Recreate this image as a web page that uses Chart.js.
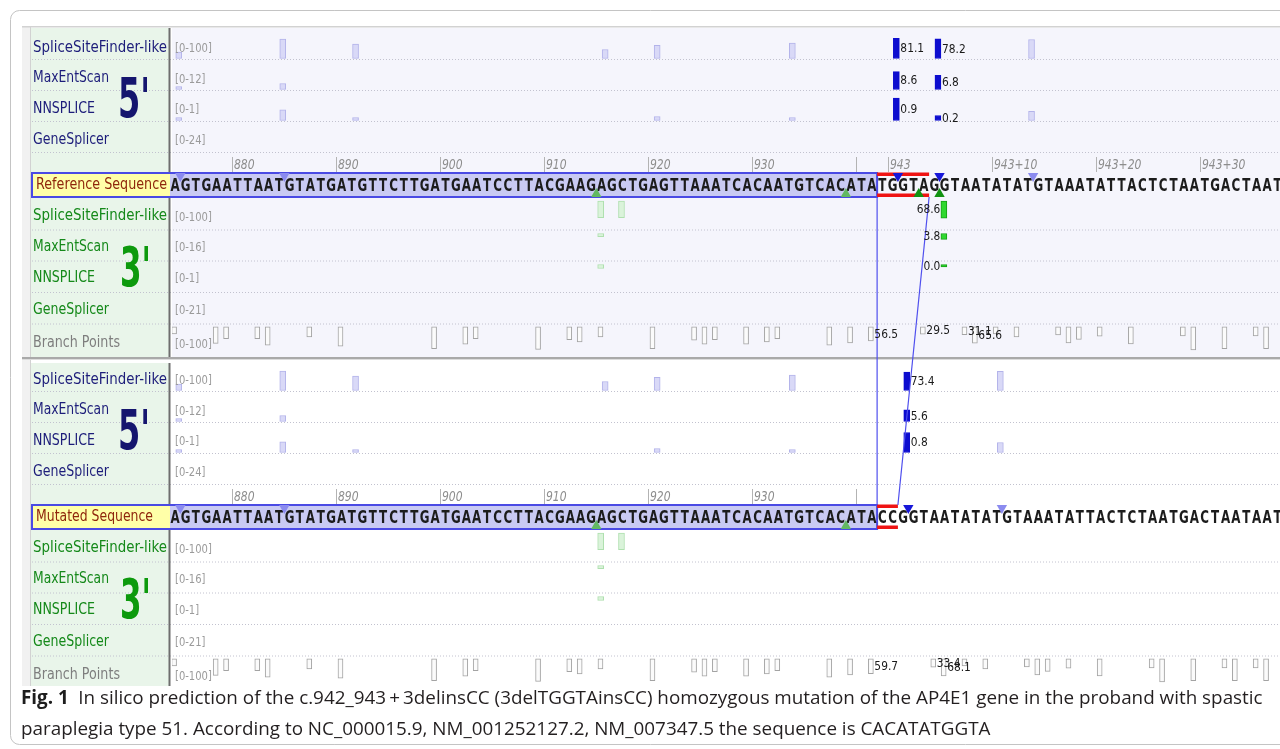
<!DOCTYPE html>
<html>
<head>
<meta charset="utf-8">
<script src="https://cdn.jsdelivr.net/npm/chart.js@4.4.0/dist/chart.umd.min.js"></script>
<style>
  html, body { margin: 0; padding: 0; background: #fff; width: 1280px; height: 749px; overflow: hidden; }
  #grafico { position: absolute; left: 0; top: 0; }
  #leyenda {
    position: absolute; left: 21px; top: 682px; white-space: nowrap;
    font-family: 'Open Sans', 'Noto Sans', sans-serif; font-size: 18.85px; line-height: 31px; color: #231f20;
  }
  #leyenda b { color: #1d1d1d; }
</style>
</head>
<body>
<canvas id="grafico" width="1280" height="749"></canvas>
<div id="leyenda"><b>Fig. 1</b>&ensp;In silico prediction of the c.942_943&thinsp;+&thinsp;3delinsCC (3delTGGTAinsCC) homozygous mutation of the AP4E1 gene in the proband with spastic<br>paraplegia type 51. According to NC_000015.9, NM_001252127.2, NM_007347.5 the sequence is CACATATGGTA</div>
<script>
// secuencias mostradas (primera base = c.874)
const primeraPos = 874;
const secRef = 'AGTGAATTAATGTATGATGTTCTTGATGAATCCTTACGAAGAGCTGAGTTAAATCACAATGTCACATATGGTAGGTAATATATGTAAATATTACTCTAATGACTAAT';
const secMut = 'AGTGAATTAATGTATGATGTTCTTGATGAATCCTTACGAAGAGCTGAGTTAAATCACAATGTCACATACCGGTAATATATGTAAATATTACTCTAATGACTAATAAT';
const finExon = 942;
const cambioRef = [942, 947];   // TGGTA
const cambioMut = [942, 944];   // CC

// regla
const marcasRef = [880, 890, 900, 910, 920, 930, 940, 943, 953, 963, 973];
const etiquetasRef = ['880', '890', '900', '910', '920', '930', '', '943', '943+10', '943+20', '943+30'];
const marcasMut = [880, 890, 900, 910, 920, 930, 940];
const etiquetasMut = ['880', '890', '900', '910', '920', '930', ''];

// pistas
const pistas5 = ['SpliceSiteFinder-like', 'MaxEntScan', 'NNSPLICE', 'GeneSplicer'];
const rangos5 = [100, 12, 1, 24];
const pistas3 = ['SpliceSiteFinder-like', 'MaxEntScan', 'NNSPLICE', 'GeneSplicer', 'Branch Points'];
const rangos3 = [100, 16, 1, 21, 100];

// sitios donadores (5'), referencia
const donRefPos = [875, 885, 892, 916, 921, 934, 944, 948, 957];
const donRefSSF = [26, 78, 58, 36, 53, 62, 81.1, 78.2, 76];
const donRefMES = [1.4, 2.9, null, null, null, null, 8.6, 6.8, null];
const donRefNNS = [0.1, 0.43, 0.1, null, 0.16, 0.12, 0.9, 0.2, 0.37];
const donRefFuertes = [944, 948];
// sitios donadores (5'), mutada
const donMutPos = [875, 885, 892, 916, 921, 934, 945, 954];
const donMutSSF = [26, 78, 58, 36, 53, 62, 73.4, 77];
const donMutMES = [1.4, 2.9, null, null, null, null, 5.6, null];
const donMutNNS = [0.1, 0.43, 0.1, null, 0.16, 0.12, 0.8, 0.4];
const donMutFuertes = [945];

// sitios aceptores (3')
const accRefPos = [915, 917, 948];
const accRefSSF = [67, 67, 68.6];
const accRefMES = [2.1, null, 3.8];
const accRefNNS = [0.16, null, 0.0];
const accRefFuertes = [948];
const accMutPos = [915, 917];
const accMutSSF = [67, 67];
const accMutMES = [2.1, null];
const accMutNNS = [0.16, null];
const accMutFuertes = [];

// triángulos sobre la secuencia
const triDonRef = [875, 885, 944, 948, 957];
const triAccRef = [915, 939, 946, 948];
const triAccRefFuertes = [946, 948];
const triDonMut = [875, 885, 945, 954];
const triAccMut = [915, 939];
const triAccMutFuertes = [];

// puntos de ramificación
const bpRefPos = [874, 878, 879, 882, 883, 887, 890, 899, 902, 903, 909, 912, 913, 915, 920, 924, 925, 926, 929, 931, 932, 937, 939, 941, 946, 950, 951, 953, 955, 959, 960, 961, 963, 966, 971, 972, 975, 978, 979];
const bpRefVal = [28, 66, 47, 47, 73, 40, 77, 87, 69, 47, 90, 51, 60, 40, 87, 53, 69, 51, 69, 60, 47, 73, 64, 56.5, 29.5, 31.1, 65.6, 28, 40, 32, 64, 50, 37, 68, 36, 92, 87, 36, 87];
const bpRefConEtiqueta = [941, 946, 950, 951];
const bpMutPos = [874, 878, 879, 882, 883, 887, 890, 899, 902, 903, 909, 912, 913, 915, 920, 924, 925, 926, 929, 931, 932, 937, 939, 941, 947, 948, 950, 952, 956, 957, 958, 960, 963, 968, 969, 972, 975, 976, 978, 979];
const bpMutVal = [28, 66, 47, 47, 73, 40, 77, 87, 69, 47, 90, 51, 60, 40, 87, 53, 69, 51, 69, 60, 47, 73, 64, 59.7, 33.4, 68.1, 28, 40, 32, 64, 50, 37, 68, 36, 92, 87, 36, 87, 36, 87];
const bpMutConEtiqueta = [941, 947, 948];

// ---- diseño ----
const ALTO_MAX = 25;                 // px de una barra en el tope de su rango
const DESPL_DON = -0.15, DESPL_ACC = 0.42, DESPL_BP = 0.4;
const FILA = {
  top: 28, bottom: 357,
  base5: [59, 90, 121, 152], texto5: [48, 78.5, 109, 140],
  regTop: 157, regBottom: 172, regTexto: 165,
  cajaTop: 173, cajaBottom: 197,
  top3: [197, 229.5, 260.5, 292, 323.5], texto3: [216.5, 247, 278, 310, 343.5]
};
const FUENTE = "'DejaVu Sans', Verdana, sans-serif";

const secciones = [
  { dy: 0, nombre: 'Reference Sequence', anchoNombre: 131, fondo: '#f5f5fc', sec: secRef, cambio: cambioRef,
    marcas: marcasRef, etiquetas: etiquetasRef,
    don: { pos: donRefPos, vals: [donRefSSF, donRefMES, donRefNNS], fuertes: donRefFuertes },
    acc: { pos: accRefPos, vals: [accRefSSF, accRefMES, accRefNNS], fuertes: accRefFuertes },
    triDon: triDonRef, triAcc: triAccRef, triAccFuertes: triAccRefFuertes,
    bp: { pos: bpRefPos, vals: bpRefVal, etiq: bpRefConEtiqueta } },
  { dy: 332, nombre: 'Mutated Sequence', anchoNombre: 117, fondo: '#ffffff', sec: secMut, cambio: cambioMut,
    marcas: marcasMut, etiquetas: etiquetasMut,
    don: { pos: donMutPos, vals: [donMutSSF, donMutMES, donMutNNS], fuertes: donMutFuertes },
    acc: { pos: accMutPos, vals: [accMutSSF, accMutMES, accMutNNS], fuertes: accMutFuertes },
    triDon: triDonMut, triAcc: triAccMut, triAccFuertes: triAccMutFuertes,
    bp: { pos: bpMutPos, vals: bpMutVal, etiq: bpMutConEtiqueta } }
];

// ---- conjuntos de datos ----
const conjuntos = [];
const textosValor = [];   // etiquetas numéricas junto a barras

secciones.forEach(s => {
  const r = 6;
  const colDon = s.triDon.map(p => s.don.fuertes.includes(p) ? '#1717d9' : '#8b8bef');
  conjuntos.push({
    type: 'scatter', order: 0,
    data: s.triDon.map(p => ({ x: p, y: FILA.cajaTop + s.dy + r / 2 })),
    pointStyle: 'triangle', pointRotation: 180, pointRadius: r,
    pointBackgroundColor: colDon, pointBorderColor: colDon, pointBorderWidth: 0
  });
  const colAcc = s.triAcc.map(p => s.triAccFuertes.includes(p) ? '#129312' : '#62b862');
  conjuntos.push({
    type: 'scatter', order: 0,
    data: s.triAcc.map(p => ({ x: p, y: FILA.cajaBottom + s.dy - r / 2 })),
    pointStyle: 'triangle', pointRotation: 0, pointRadius: r,
    pointBackgroundColor: colAcc, pointBorderColor: colAcc, pointBorderWidth: 0
  });

  // barras 5'
  s.don.vals.forEach((vals, k) => {
    const base = FILA.base5[k] + s.dy - 0.5;
    const datos = [], fondo = [], borde = [];
    s.don.pos.forEach((p, i) => {
      const v = vals[i];
      if (v === null || v === undefined) return;
      const h = Math.max(v / rangos5[k] * ALTO_MAX, 3);
      datos.push({ x: p + DESPL_DON, y: [base, base - h] });
      const f = s.don.fuertes.includes(p);
      fondo.push(f ? '#0d0dcf' : '#d9d9f7');
      borde.push(f ? '#0d0dcf' : '#b3b3ea');
      if (f) textosValor.push({ v: v.toFixed(1), x: p + DESPL_DON, y: base - h / 2, lado: 'der' });
    });
    conjuntos.push({ type: 'bar', order: 2, data: datos, backgroundColor: fondo, borderColor: borde,
      borderWidth: 1, borderSkipped: false, barThickness: 6, stack: 'pistas' });
  });

  // barras 3'
  s.acc.vals.forEach((vals, k) => {
    const tope = FILA.top3[k] + s.dy + 4;
    const datos = [], fondo = [], borde = [];
    s.acc.pos.forEach((p, i) => {
      const v = vals[i];
      if (v === null || v === undefined) return;
      const h = Math.max(v / rangos3[k] * ALTO_MAX, 2.5);
      datos.push({ x: p + DESPL_ACC, y: [tope, tope + h] });
      const f = s.acc.fuertes.includes(p);
      fondo.push(f ? '#2fd82f' : '#daf3da');
      borde.push(f ? '#15a015' : '#afe0af');
      if (f) textosValor.push({ v: v.toFixed(1), x: p + DESPL_ACC, y: tope + h / 2, lado: 'izq' });
    });
    conjuntos.push({ type: 'bar', order: 2, data: datos, backgroundColor: fondo, borderColor: borde,
      borderWidth: 1, borderSkipped: false, barThickness: 6, stack: 'pistas' });
  });

  // puntos de ramificación
  const topeBp = FILA.top3[4] + s.dy + 3.3;
  conjuntos.push({
    type: 'bar', order: 2,
    data: s.bp.pos.map((p, i) => ({ x: p + DESPL_BP, y: [topeBp, topeBp + s.bp.vals[i] / rangos3[4] * ALTO_MAX] })),
    backgroundColor: '#fbfbfb', borderColor: '#a3a3a3', borderWidth: 1, borderSkipped: false,
    barThickness: 5, stack: 'pistas'
  });
  s.bp.pos.forEach((p, i) => {
    if (s.bp.etiq.includes(p)) {
      const h = s.bp.vals[i] / rangos3[4] * ALTO_MAX;
      textosValor.push({ v: s.bp.vals[i].toFixed(1), x: p + DESPL_BP, y: topeBp + h / 2, lado: 'bp' });
    }
  });
});

// líneas que unen la deleción con la inserción
const yCajaRef = FILA.cajaBottom, yCajaMut = FILA.cajaTop + secciones[1].dy;
conjuntos.push({ type: 'line', order: 1, data: [{ x: cambioRef[0], y: yCajaRef }, { x: cambioMut[0], y: yCajaMut }],
  borderColor: '#4f4fee', borderWidth: 1.2, pointRadius: 0, fill: false });
conjuntos.push({ type: 'line', order: 1, data: [{ x: cambioRef[1], y: yCajaRef }, { x: cambioMut[1], y: yCajaMut }],
  borderColor: '#4f4fee', borderWidth: 1.2, pointRadius: 0, fill: false });

// ---- utilidades de texto ----
function texto(ctx, s, x, y, fuente, color, alinear, sx, base) {
  ctx.save();
  ctx.font = fuente; ctx.fillStyle = color; ctx.textAlign = alinear || 'left';
  ctx.textBaseline = base || 'middle';
  ctx.translate(x, y); ctx.scale(sx || 1, 1);
  ctx.fillText(s, 0, 0);
  ctx.restore();
}
function ajustado(ctx, s, x, y, ancho, fuente, color, base) {
  ctx.save();
  ctx.font = fuente;
  const m = ctx.measureText(s).width;
  ctx.restore();
  texto(ctx, s, x, y, fuente, color, 'left', ancho / m, base);
}

const fondoPlugin = {
  id: 'fondo',
  beforeDraw(chart) {
    const ctx = chart.ctx;
    const { left, right, bottom } = chart.chartArea;
    const X = v => chart.scales.x.getPixelForValue(v);
    ctx.save();
    ctx.fillStyle = '#fff'; ctx.fillRect(0, 0, 1280, 749);
    // marco exterior
    ctx.strokeStyle = '#c4c4c4'; ctx.lineWidth = 1;
    ctx.beginPath(); ctx.roundRect(10.5, 10.5, 1300, 734, 9); ctx.stroke();
    // borde de la captura
    ctx.fillStyle = '#f1f1f1'; ctx.fillRect(22, 26, 9, bottom - 26);
    ctx.fillStyle = '#d2d2d2'; ctx.fillRect(22, 26, right - 22, 1.5);
    ctx.fillRect(30, 26, 1, bottom - 26);

    secciones.forEach((s, n) => {
      const t = FILA.top + s.dy + (n ? 3 : 0);
      const b = Math.min(FILA.bottom + s.dy, bottom);
      ctx.fillStyle = s.fondo; ctx.fillRect(left, t, right - left, b - t);
      ctx.fillStyle = '#e9f5ea'; ctx.fillRect(31, t, 138, b - t);

      // líneas punteadas
      ctx.strokeStyle = '#c2c2cf'; ctx.lineWidth = 1; ctx.setLineDash([1, 2]);
      FILA.base5.concat(FILA.top3.slice(1)).forEach(y => {
        ctx.beginPath(); ctx.moveTo(32, y + s.dy + 0.5); ctx.lineTo(right, y + s.dy + 0.5); ctx.stroke();
      });
      ctx.setLineDash([]);

      // divisor vertical
      ctx.fillStyle = '#6e6e6e'; ctx.fillRect(168.5, t, 2, b - t);

      // caja de secuencia
      const ct = FILA.cajaTop + s.dy, cb = FILA.cajaBottom + s.dy;
      ctx.fillStyle = '#ffffa8'; ctx.fillRect(32, ct, 138, cb - ct);
      ctx.fillStyle = '#c9caf3'; ctx.fillRect(170, ct, X(finExon) - 170, cb - ct);
      ctx.strokeStyle = '#4a4ae4'; ctx.lineWidth = 2;
      ctx.strokeRect(32, ct, X(finExon) - 32, cb - ct);

      // regla
      ctx.strokeStyle = '#b3b3b3'; ctx.lineWidth = 1;
      s.marcas.forEach(m => {
        const x = Math.round(X(m)) + 0.5;
        ctx.beginPath(); ctx.moveTo(x, FILA.regTop + s.dy); ctx.lineTo(x, FILA.regBottom + s.dy); ctx.stroke();
      });
    });
    // separador entre referencia y mutada
    ctx.fillStyle = '#a9a9a9'; ctx.fillRect(22, FILA.bottom, right - 22, 2);
    ctx.fillStyle = '#dcdcdc'; ctx.fillRect(22, FILA.bottom + 2, right - 22, 1);
    ctx.restore();
  },
  beforeDatasetsDraw(chart) {
    const ctx = chart.ctx;
    const X = v => chart.scales.x.getPixelForValue(v);
    secciones.forEach(s => {
      const ct = FILA.cajaTop + s.dy, cb = FILA.cajaBottom + s.dy;
      // letras
      for (let i = 0; i < s.sec.length; i++) {
        texto(ctx, s.sec[i], X(primeraPos + i + 0.5), (ct + cb) / 2 + 1, 'bold 18px ' + FUENTE, '#1c1c1c', 'center', 0.66);
      }
      // deleción / inserción en rojo
      ctx.fillStyle = '#ef1313';
      ctx.fillRect(X(s.cambio[0]), ct - 0.5, X(s.cambio[1]) - X(s.cambio[0]), 3.5);
      ctx.fillRect(X(s.cambio[0]), cb - 3.5, X(s.cambio[1]) - X(s.cambio[0]), 3.5);
      // etiquetas de la regla
      s.marcas.forEach((m, i) => {
        if (s.etiquetas[i]) texto(ctx, s.etiquetas[i], Math.round(X(m)) + 2, FILA.regTexto + s.dy, 'italic 13.5px ' + FUENTE, '#8d8d8d', 'left', 0.8);
      });
    });
  },
  afterDatasetsDraw(chart) {
    const ctx = chart.ctx;
    const X = v => chart.scales.x.getPixelForValue(v);
    const Y = v => chart.scales.y.getPixelForValue(v);
    textosValor.forEach(t => {
      const fuente = '13px ' + FUENTE;
      if (t.lado === 'der') texto(ctx, t.v, X(t.x) + 4, Y(t.y) + 0.5, fuente, '#1a1a1a', 'left', 0.82);
      else if (t.lado === 'izq') texto(ctx, t.v, X(t.x) - 3.5, Y(t.y) + 0.5, fuente, '#1a1a1a', 'right', 0.82);
      else texto(ctx, t.v, X(t.x) + 3.5, Y(t.y) + 0.5, fuente, '#1a1a1a', 'left', 0.82);
    });

    // textos del panel izquierdo
    const anchos5 = [134, 76, 62, 76];
    const anchos3 = [134, 76, 62, 76, 87];
    const fuenteEt = '15px ' + FUENTE;
    secciones.forEach(s => {
      pistas5.forEach((p, k) => {
        ajustado(ctx, p, 33, FILA.texto5[k] + s.dy, anchos5[k], fuenteEt, '#1d1d7a');
        texto(ctx, '[0-' + rangos5[k] + ']', 175, FILA.texto5[k] + s.dy + 1, '12.5px ' + FUENTE, '#9b9b9b', 'left', 0.8);
      });
      pistas3.forEach((p, k) => {
        const y = FILA.texto3[k] + s.dy;
        if (y > 690) return;
        ajustado(ctx, p, 33, y, anchos3[k], fuenteEt, k === 4 ? '#7e7e7e' : '#15891a');
        texto(ctx, '[0-' + rangos3[k] + ']', 175, y + 1, '12.5px ' + FUENTE, '#9b9b9b', 'left', 0.8);
      });
      ajustado(ctx, s.nombre, 36, (FILA.cajaTop + FILA.cajaBottom) / 2 + s.dy + 0.5, s.anchoNombre, fuenteEt, '#8f260c');
      ajustado(ctx, "5'", 118, 117 + s.dy, 32, 'bold 55px ' + FUENTE, '#15156e', 'alphabetic');
      ajustado(ctx, "3'", 120, 286 + s.dy, 31, 'bold 55px ' + FUENTE, '#0d9a0d', 'alphabetic');
    });
  }
};

new Chart(document.getElementById('grafico'), {
  type: 'bar',
  data: { datasets: conjuntos },
  options: {
    responsive: false,
    animation: false,
    devicePixelRatio: 1,
    events: [],
    layout: { autoPadding: false, padding: { left: 172, right: 0, top: 28, bottom: 63 } },
    plugins: { legend: { display: false }, tooltip: { enabled: false } },
    scales: {
      x: { type: 'linear', min: 874.2, max: 980.74, offset: false, display: false, grid: { display: false } },
      y: { type: 'linear', min: 28, max: 686, reverse: true, stacked: false, display: false, grid: { display: false } }
    }
  },
  plugins: [fondoPlugin]
});
</script>
</body>
</html>
